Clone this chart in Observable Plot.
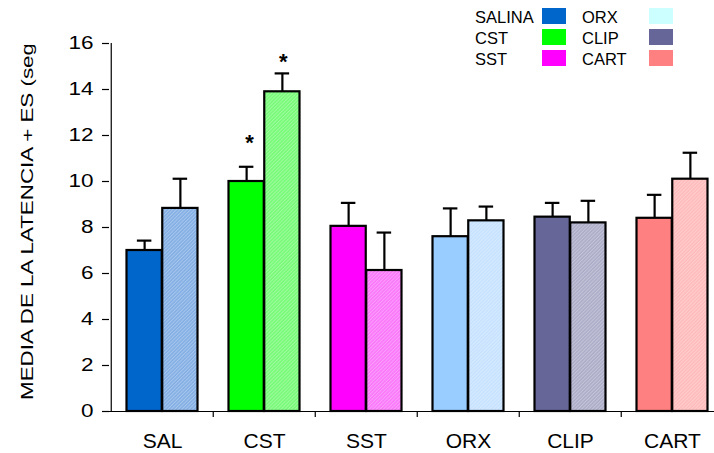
<!DOCTYPE html>
<html>
<head>
<meta charset="utf-8">
<script src="https://cdn.jsdelivr.net/npm/d3@7"></script>
<script src="https://cdn.jsdelivr.net/npm/@observablehq/plot@0.6"></script>
<style>
  html, body { margin: 0; padding: 0; background: #fff; }
  #chart { width: 714px; height: 453px; overflow: hidden; }
  svg { font-family: "Liberation Sans", Arial, sans-serif; }
</style>
</head>
<body>
<div id="chart"></div>
<script>
const categories = ["SAL", "CST", "SST", "ORX", "CLIP", "CART"];
const mean1 = [7.0, 10.0, 8.05, 7.6, 8.45, 8.4];
const se1   = [0.43, 0.64, 1.02, 1.23, 0.62, 1.02];
const mean2 = [8.83, 13.9, 6.13, 8.29, 8.2, 10.1];
const se2   = [1.29, 0.8, 1.65, 0.62, 0.96, 1.15];
const colors1 = ["#0066CC", "#00FF00", "#FF00FF", "#99CCFF", "#666699", "#FF8080"];
const colors2 = ["#82aee4", "#76fa76", "#fa76fa", "#c6e2ff", "#acacc8", "#ffbaba"];
const yTicks = [0, 2, 4, 6, 8, 10, 12, 14, 16];
const starCats = ["CST"];
const legendLabels = ["SALINA", "CST", "SST", "ORX", "CLIP", "CART"];
const legendColors = ["#0066CC", "#00FF00", "#FF00FF", "#CCFFFF", "#666699", "#FF8080"];
const yTitle = "MEDIA DE LA LATENCIA + ES (seg";

const s1 = categories.map((c, i) => ({cat: c, mean: mean1[i], top: mean1[i] + se1[i], color: colors1[i]}));
const s2 = categories.map((c, i) => ({cat: c, mean: mean2[i], top: mean2[i] + se2[i], color: colors2[i]}));
const stars1 = s1.filter(d => starCats.includes(d.cat));
const stars2 = s2.filter(d => starCats.includes(d.cat));

const W = 102.5;          // band width in px (for insets)
const bIn = 15.5, bMid = W / 2;
const capHalf = 7.5;
const c1 = bIn + (bMid - bIn) / 2;
const c2 = bMid + (bMid - bIn) / 2;

const plot = Plot.plot({
  width: 714,
  height: 453,
  marginLeft: 109,
  marginRight: -10,
  marginTop: 43,
  marginBottom: 42,
  style: {fontFamily: "Liberation Sans, Arial, sans-serif", background: "white"},
  x: {domain: categories, padding: 0, axis: null},
  y: {domain: [0, 16], axis: null},
  color: {type: "identity"},
  marks: [
    Plot.barY(s1, {x: "cat", y: "mean", fill: "color", stroke: "black", strokeWidth: 2.2,
      insetLeft: bIn, insetRight: W - bMid}),
    Plot.barY(s2, {x: "cat", y: "mean", fill: "color",
      insetLeft: bMid, insetRight: bIn}),
    Plot.barY(s2, {x: "cat", y: "mean", fill: "url(#hatch)", stroke: "black", strokeWidth: 2.2,
      insetLeft: bMid, insetRight: bIn}),
    Plot.ruleX(s1, {x: "cat", y1: "mean", y2: "top", stroke: "black", strokeWidth: 2.2, dx: c1 - W / 2}),
    Plot.tickY(s1, {x: "cat", y: "top", stroke: "black", strokeWidth: 2.2,
      insetLeft: c1 - capHalf, insetRight: W - c1 - capHalf}),
    Plot.ruleX(s2, {x: "cat", y1: "mean", y2: "top", stroke: "black", strokeWidth: 2.2, dx: c2 - W / 2}),
    Plot.tickY(s2, {x: "cat", y: "top", stroke: "black", strokeWidth: 2.2,
      insetLeft: c2 - capHalf, insetRight: W - c2 - capHalf}),
    Plot.text(stars1, {x: "cat", y: "top", text: () => "*", dx: c1 - W / 2 + 3, dy: -24,
      fontSize: 22, fontWeight: "bold", fill: "black"}),
    Plot.text(stars2, {x: "cat", y: "top", text: () => "*", dx: c2 - W / 2 + 1, dy: -11,
      fontSize: 22, fontWeight: "bold", fill: "black"}),
    Plot.ruleY([0], {stroke: "black", strokeWidth: 1.2}),
    Plot.ruleX(categories.slice(0, 1), {x: d => d, dx: -W / 2, stroke: "black", strokeWidth: 1.2}),
    Plot.ruleX(categories.slice(1), {x: d => d, dx: -W / 2, y1: 0, y2: 0, insetBottom: -6,
      stroke: "black", strokeWidth: 1.2}),
    Plot.axisY(yTicks, {ticks: yTicks, tickSize: 7, tickPadding: 9, fontSize: 18, label: null,
      stroke: "black", strokeWidth: 1.2, color: "black"}),
    Plot.axisX({tickSize: 0, tickPadding: 22, fontSize: 21, label: null, color: "black"})
  ]
});

const svg = d3.select(plot);
const defs = svg.insert("defs", ":first-child");
const pat = defs.append("pattern").attr("id", "hatch")
  .attr("patternUnits", "userSpaceOnUse").attr("width", 2.5).attr("height", 2.5)
  .attr("patternTransform", "rotate(45)");
pat.append("rect").attr("width", 1).attr("height", 2.5).attr("fill", "white").attr("fill-opacity", 0.3);
defs.append("clipPath").attr("id", "titleclip")
  .append("rect").attr("x", 0).attr("y", 45).attr("width", 100).attr("height", 408);

// Y title (rotated, stretched, clipped at top)
svg.append("g").attr("clip-path", "url(#titleclip)")
  .append("text")
  .attr("transform", "translate(33,400) rotate(-90)")
  .attr("text-anchor", "start")
  .attr("font-size", 17)
  .attr("textLength", 357)
  .attr("lengthAdjust", "spacingAndGlyphs")
  .attr("fill", "black")
  .text(yTitle);

// legend
const leg = svg.append("g").attr("font-size", 16.5).attr("fill", "black").attr("text-anchor", "start");
legendLabels.forEach((lab, i) => {
  const col = Math.floor(i / 3), row = i % 3;
  const tx = col === 0 ? 475 : 582;
  const sx = col === 0 ? 542 : 649;
  const y0 = 8 + row * 21;
  leg.append("text").attr("x", tx).attr("y", y0 + 14.7).text(lab);
  leg.append("rect").attr("x", sx).attr("y", y0).attr("width", 24).attr("height", 16)
    .attr("fill", legendColors[i]);
});

document.getElementById("chart").appendChild(plot);

// widen y tick labels about their right edge (reference uses wide glyphs)
svg.selectAll('g[aria-label="y-axis tick label"] text').each(function () {
  const bb = this.getBBox();
  const r = bb.x + bb.width;
  const t = this.getAttribute("transform") || "";
  this.setAttribute("transform", `${t} translate(${r},0) scale(1.25,1) translate(${-r},0)`);
});
</script>
</body>
</html>
